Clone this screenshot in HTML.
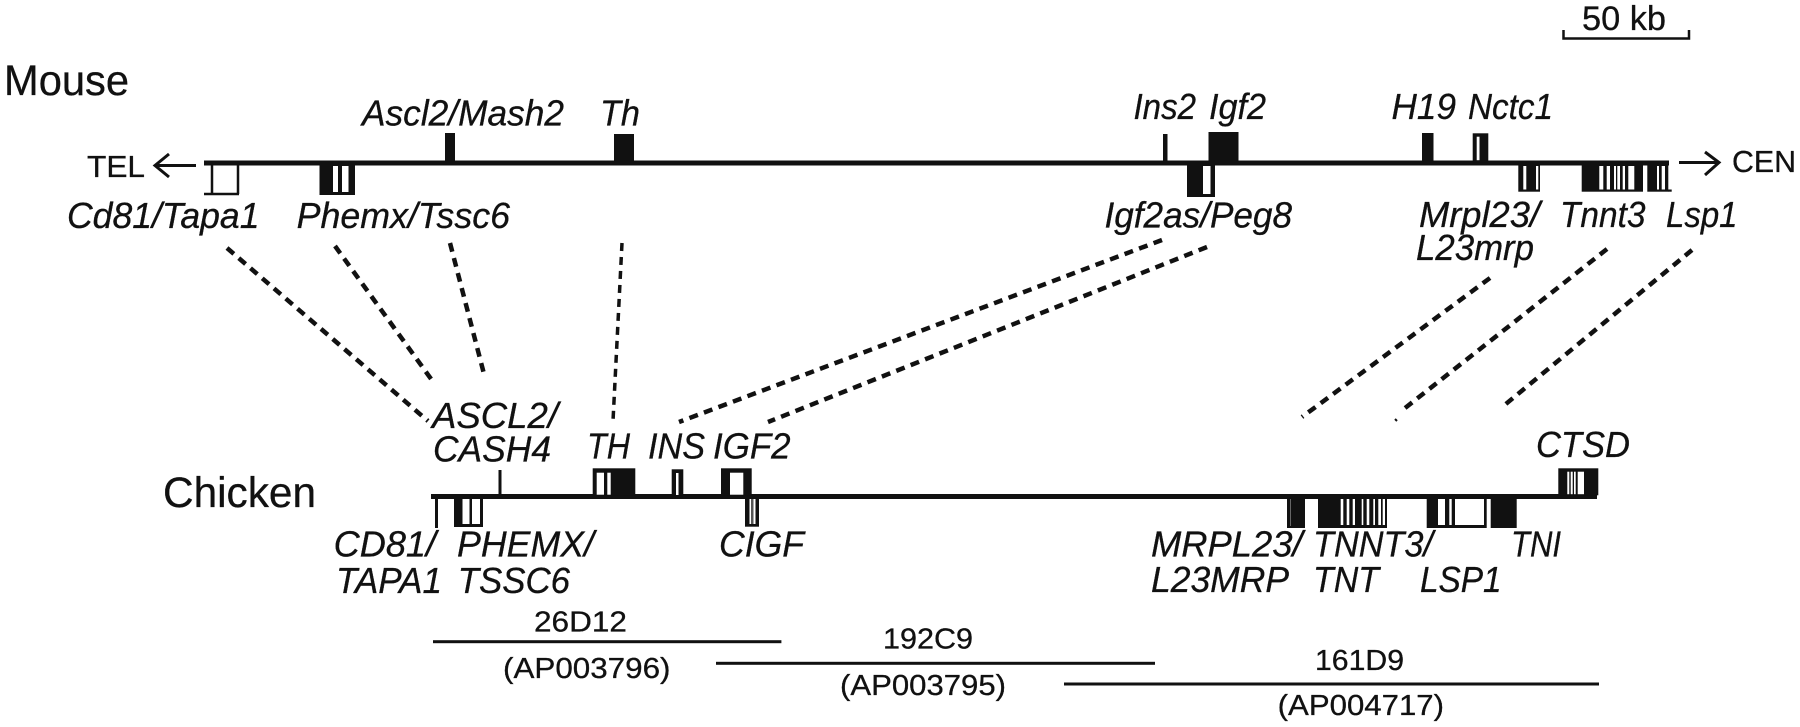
<!DOCTYPE html>
<html><head><meta charset="utf-8"><style>
html,body{margin:0;padding:0;background:#fff;width:1800px;height:727px;overflow:hidden}
svg{display:block}
text{font-family:"Liberation Sans",sans-serif;fill:#111;stroke:#111;stroke-width:.3}
.i{font-style:italic;font-size:36px}
.r{font-size:29px}
.d{stroke:#111;stroke-width:4.5;stroke-dasharray:9 6.5;fill:none}
</style></head><body>
<svg width="1800" height="727" viewBox="0 0 1800 727" xmlns="http://www.w3.org/2000/svg">
<g fill="#111">
<!-- scale -->
<path d="M1563.5 30V38.5H1689V30" fill="none" stroke="#111" stroke-width="2.5"/>
<!-- mouse line -->
<rect x="204" y="160.5" width="1465" height="5"/>
<!-- arrows -->
<path d="M196 165.5H155M169 154L155 165.5L169 177" fill="none" stroke="#111" stroke-width="3"/>
<path d="M1679 162.5H1719M1705 152L1719 162.5L1705 175" fill="none" stroke="#111" stroke-width="3"/>
<!-- Mouse upper -->
<rect x="445" y="133" width="10" height="30"/>
<rect x="614" y="134" width="20" height="29"/>
<rect x="1163" y="134" width="4.5" height="29"/>
<rect x="1208.5" y="132" width="30" height="31"/>
<rect x="1422" y="133" width="11.5" height="30"/>
<rect x="1472.7" y="133.3" width="15.6" height="29"/>
<rect x="1476.7" y="136.7" width="2.8" height="23.5" fill="#fff"/>
<!-- Mouse lower -->
<path d="M204 194H239M212 165V194M238 165V194" fill="none" stroke="#111" stroke-width="2.5"/>
<rect x="319.5" y="165" width="35.5" height="30"/>
<rect x="333" y="166" width="5" height="26" fill="#fff"/>
<rect x="342" y="166" width="6.5" height="26" fill="#fff"/>
<rect x="1187" y="165" width="28" height="32"/>
<rect x="1203" y="166" width="7.5" height="28" fill="#fff"/>
<rect x="1518.3" y="165" width="21.7" height="26.7"/>
<rect x="1523.3" y="166" width="3" height="23.5" fill="#fff"/>
<rect x="1536" y="166" width="2.3" height="23.5" fill="#fff"/>
<rect x="1581.7" y="165" width="61.3" height="26.7"/>
<rect x="1599.3" y="166" width="4" height="23.5" fill="#fff"/>
<rect x="1606.7" y="166" width="3.3" height="23.5" fill="#fff"/>
<rect x="1614" y="166" width="2" height="23.5" fill="#fff"/>
<rect x="1617.3" y="166" width="2.7" height="23.5" fill="#fff"/>
<rect x="1622.7" y="166" width="2.3" height="23.5" fill="#fff"/>
<rect x="1628.3" y="166" width="6" height="23.5" fill="#fff"/>
<rect x="1647.3" y="165" width="21" height="26.7"/>
<rect x="1668" y="189.5" width="3.7" height="2.2"/>
<rect x="1657" y="166" width="2" height="23.5" fill="#fff"/>
<rect x="1661.7" y="166" width="3.3" height="23.5" fill="#fff"/>
<!-- chicken line -->
<rect x="431" y="494" width="1166" height="5"/>
<!-- chicken upper -->
<rect x="498.5" y="470" width="3" height="26"/>
<rect x="592.7" y="468.3" width="42.6" height="27"/>
<rect x="596.7" y="472.7" width="7.3" height="22" fill="#fff"/>
<rect x="607.3" y="472.7" width="3.4" height="22" fill="#fff"/>
<rect x="671.7" y="469.3" width="11.6" height="26"/>
<rect x="676" y="473" width="2.5" height="22" fill="#fff"/>
<rect x="721" y="468.3" width="30.7" height="27"/>
<rect x="730" y="472.7" width="13.3" height="22" fill="#fff"/>
<rect x="1558.3" y="468.3" width="40" height="27"/>
<rect x="1567.3" y="471.7" width="2" height="22.5" fill="#fff"/>
<rect x="1570.7" y="471.7" width="2" height="22.5" fill="#fff"/>
<rect x="1574" y="471.7" width="1.7" height="22.5" fill="#fff"/>
<rect x="1577.7" y="471.7" width="6.3" height="22.5" fill="#fff"/>
<!-- chicken lower -->
<rect x="435" y="498" width="3" height="30"/>
<rect x="454" y="498" width="29" height="29"/>
<rect x="462.5" y="499" width="7" height="25" fill="#fff"/>
<rect x="472" y="499" width="8" height="25" fill="#fff"/>
<rect x="745" y="498" width="14" height="28.7"/>
<rect x="749.5" y="499" width="1.5" height="25" fill="#fff"/>
<rect x="751" y="499" width="2.5" height="25" fill="#555"/>
<rect x="753.5" y="499" width="2" height="25" fill="#fff"/>
<rect x="1287" y="498" width="18" height="30"/>
<rect x="1290" y="499" width="1" height="27" fill="#666"/>
<rect x="1318" y="498" width="69" height="30"/>
<rect x="1340.7" y="499" width="2.6" height="26" fill="#fff"/>
<rect x="1346.7" y="499" width="2.6" height="26" fill="#fff"/>
<rect x="1352.7" y="499" width="2.3" height="26" fill="#fff"/>
<rect x="1361.7" y="499" width="1.6" height="26" fill="#fff"/>
<rect x="1366.7" y="499" width="2.6" height="26" fill="#fff"/>
<rect x="1373.3" y="499" width="1.7" height="26" fill="#fff"/>
<rect x="1378.3" y="499" width="2.7" height="26" fill="#fff"/>
<rect x="1382.7" y="499" width="2.3" height="26" fill="#fff"/>
<rect x="1426.7" y="498" width="60" height="30"/>
<rect x="1438" y="499" width="7" height="26" fill="#fff"/>
<rect x="1449.3" y="499" width="2.4" height="26" fill="#fff"/>
<rect x="1455" y="499" width="29" height="26" fill="#fff"/>
<rect x="1490.7" y="498" width="26" height="30"/>
<!-- clones -->
<rect x="433" y="640.2" width="348.4" height="3"/>
<rect x="716" y="661.8" width="439" height="3"/>
<rect x="1064" y="682.5" width="535" height="3"/>
</g>
<line class="d" x1="227" y1="248" x2="428" y2="421"/>
<line class="d" x1="335" y1="246" x2="434" y2="383"/>
<line class="d" x1="450" y1="243" x2="484" y2="374"/>
<line class="d" style="stroke-width:3.5;stroke-dasharray:8 6" x1="622" y1="243" x2="613" y2="421"/>
<line class="d" x1="1162" y1="240" x2="679" y2="422"/>
<line class="d" x1="1207" y1="247" x2="768" y2="422"/>
<line class="d" x1="1490" y1="278" x2="1302" y2="417"/>
<line class="d" x1="1607" y1="249" x2="1400" y2="412"/>
<line class="d" style="stroke-width:2" x1="1395" y1="419" x2="1397" y2="421"/>
<line class="d" x1="1692" y1="250" x2="1501" y2="408"/>
<text x="1582" y="30" font-size="34" textLength="84" lengthAdjust="spacingAndGlyphs">50 kb</text>
<text x="4" y="95" font-size="43" textLength="125" lengthAdjust="spacingAndGlyphs">Mouse</text>
<text x="163" y="507" font-size="43" textLength="153" lengthAdjust="spacingAndGlyphs">Chicken</text>
<text x="87" y="177" font-size="31" textLength="58" lengthAdjust="spacingAndGlyphs">TEL</text>
<text x="1732" y="172" font-size="31" textLength="64" lengthAdjust="spacingAndGlyphs">CEN</text>
<g>
<text class="i" x="362" y="125.7" textLength="202" lengthAdjust="spacingAndGlyphs">Ascl2/Mash2</text>
<text class="i" x="600" y="125.7" textLength="40" lengthAdjust="spacingAndGlyphs">Th</text>
<text class="i" x="1133.5" y="119" textLength="62.5" lengthAdjust="spacingAndGlyphs">Ins2</text>
<text class="i" x="1209" y="119" textLength="57" lengthAdjust="spacingAndGlyphs">Igf2</text>
<text class="i" x="1391.5" y="119" textLength="64.5" lengthAdjust="spacingAndGlyphs">H19</text>
<text class="i" x="1468" y="119" textLength="85" lengthAdjust="spacingAndGlyphs">Nctc1</text>
<text class="i" x="67" y="228" textLength="192.5" lengthAdjust="spacingAndGlyphs">Cd81/Tapa1</text>
<text class="i" x="296.6" y="228" textLength="213.4" lengthAdjust="spacingAndGlyphs">Phemx/Tssc6</text>
<text class="i" x="1104.5" y="227.7" textLength="187.5" lengthAdjust="spacingAndGlyphs">Igf2as/Peg8</text>
<text class="i" x="1419" y="227" textLength="121" lengthAdjust="spacingAndGlyphs">Mrpl23/</text>
<text class="i" x="1416" y="260" textLength="118" lengthAdjust="spacingAndGlyphs">L23mrp</text>
<text class="i" x="1560" y="227" textLength="85.5" lengthAdjust="spacingAndGlyphs">Tnnt3</text>
<text class="i" x="1666" y="227" textLength="71.5" lengthAdjust="spacingAndGlyphs">Lsp1</text>
<text class="i" x="432" y="428" textLength="126" lengthAdjust="spacingAndGlyphs">ASCL2/</text>
<text class="i" x="433" y="461.7" textLength="118" lengthAdjust="spacingAndGlyphs">CASH4</text>
<text class="i" x="587" y="458.3" textLength="43" lengthAdjust="spacingAndGlyphs">TH</text>
<text class="i" x="648" y="458.3" textLength="57" lengthAdjust="spacingAndGlyphs">INS</text>
<text class="i" x="713" y="458.3" textLength="77.6" lengthAdjust="spacingAndGlyphs">IGF2</text>
<text class="i" x="1536" y="457" textLength="94" lengthAdjust="spacingAndGlyphs">CTSD</text>
<text class="i" x="333.7" y="556.7" textLength="102.3" lengthAdjust="spacingAndGlyphs">CD81/</text>
<text class="i" x="336" y="593" textLength="106" lengthAdjust="spacingAndGlyphs">TAPA1</text>
<text class="i" x="457" y="556.7" textLength="137" lengthAdjust="spacingAndGlyphs">PHEMX/</text>
<text class="i" x="457.7" y="593" textLength="112.3" lengthAdjust="spacingAndGlyphs">TSSC6</text>
<text class="i" x="719" y="556.7" textLength="85" lengthAdjust="spacingAndGlyphs">CIGF</text>
<text class="i" x="1151" y="556.7" textLength="151.6" lengthAdjust="spacingAndGlyphs">MRPL23/</text>
<text class="i" x="1151" y="592" textLength="138" lengthAdjust="spacingAndGlyphs">L23MRP</text>
<text class="i" x="1313" y="556.7" textLength="120" lengthAdjust="spacingAndGlyphs">TNNT3/</text>
<text class="i" x="1313" y="592" textLength="66" lengthAdjust="spacingAndGlyphs">TNT</text>
<text class="i" x="1420" y="592" textLength="81.6" lengthAdjust="spacingAndGlyphs">LSP1</text>
<text class="i" x="1511" y="556.7" textLength="50" lengthAdjust="spacingAndGlyphs">TNI</text>
</g>
<text class="r" x="534" y="631.7" textLength="93" lengthAdjust="spacingAndGlyphs">26D12</text>
<text class="r" x="503" y="678" textLength="167.5" lengthAdjust="spacingAndGlyphs">(AP003796)</text>
<text class="r" x="883" y="648.3" textLength="90" lengthAdjust="spacingAndGlyphs">192C9</text>
<text class="r" x="840" y="695" textLength="166" lengthAdjust="spacingAndGlyphs">(AP003795)</text>
<text class="r" x="1315" y="670" textLength="89" lengthAdjust="spacingAndGlyphs">161D9</text>
<text class="r" x="1277.7" y="715" textLength="166.3" lengthAdjust="spacingAndGlyphs">(AP004717)</text>
</svg>
</body></html>
